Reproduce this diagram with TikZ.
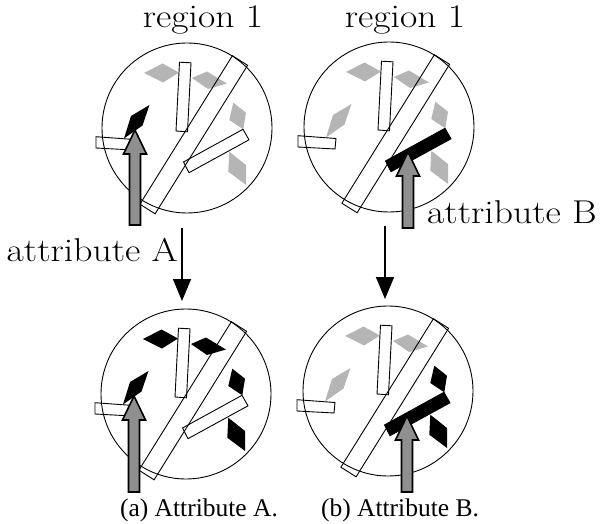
\documentclass[tikz,border=0pt]{standalone}
\usepackage{fontspec}
\newfontfamily\capfont{Liberation Serif}
\usetikzlibrary{arrows.meta}
\definecolor{lgray}{gray}{0.71}
\definecolor{agray}{gray}{0.56}
\newcommand\widetext[1]{\scalebox{1.14}[1]{#1}}
\tikzset{
  ring/.style={circle, draw=black, line width=0.9pt, minimum size=170pt, inner sep=0pt},
  rectline/.style={draw=black, line width=0.9pt},
  grayarrow/.style={draw=black, fill=agray, line width=1.6pt, line join=miter},
  downarr/.style={draw=black, line width=1.6pt, -{Triangle[width=18pt,length=22pt]}},
  lbl/.style={inner sep=0pt, font=\fontsize{33}{40}\selectfont},
  captext/.style={inner sep=0pt, font=\capfont\fontsize{25.5}{30}\selectfont}
}
\newcommand\drawscene[9]{%
  \begin{scope}[shift={(#1,#2)}]
    \fill[#3] (-43,-55) -- (-24.5,-64.5) -- (-8,-55.5) -- (-24,-45.5) -- cycle;
    \fill[#3] (5,-50) -- (20,-56.5) -- (40,-44.5) -- (21,-39) -- cycle;
    \fill[#4] (46.3,-25.3) -- (59,-15.3) -- (56.3,1.3) -- (42.3,-8) -- cycle;
    \fill[#4] (42.3,23.7) -- (59,37) -- (59,57) -- (41.3,43.7) -- cycle;
    \draw[rectline] (45.4,-72.3) -- (60.6,-62.7) -- (-31.9,85.8) -- (-47.1,76.2) -- cycle;
    \draw[rectline] (-7.5,-65.8) -- (4,-65.2) -- (0.5,3.8) -- (-11,3) -- cycle;
    \draw[rectline] (-91,8.7) -- (-53,11.5) -- (-54,22) -- (-91,20) -- cycle;
    \draw[#6] (-3.5,34) -- (56,1.3) -- (62,11.8) -- (2,44.7) -- cycle;
    \fill[#5] (-37.5,-23) -- (-56,-12) -- (-63,10.5) -- (-44.5,-2.5) -- cycle;
    \draw[grayarrow] (#7,#8) -- (#7+11.5,#8+24) -- (#7+5.5,#8+24) -- (#7+5.5,#9)
      -- (#7-5.5,#9) -- (#7-5.5,#8+24) -- (#7-11.5,#8+24) -- cycle;
  \end{scope}}
\begin{document}
\begin{tikzpicture}[x=1pt,y=-1pt]
  \useasboundingbox (0,0) rectangle (600,524);
  % circles
  \node[ring] (c1) at (187,128) {};
  \node[ring] (c2) at (389,127) {};
  \node[ring] (c3) at (186,394) {};
  \node[ring] (c4) at (388,391) {};
  % contents
  \drawscene{187}{128}{lgray}{lgray}{black}{rectline}{-52}{2}{97}
  \drawscene{389}{127}{lgray}{lgray}{lgray}{rectline,fill=black}{19}{25}{101}
  \drawscene{186}{394}{black}{black}{black}{rectline}{-52}{2}{98}
  \drawscene{388}{391}{lgray}{black}{lgray}{rectline,fill=black}{19}{25}{101}
  % labels
  \node[lbl, anchor=base] (r1) at (203,28) {\widetext{region 1}};
  \node[lbl, anchor=base] (r2) at (405,28) {\widetext{region 1}};
  \node[lbl, anchor=base east] (la) at (178,261) {\widetext{attribute A}};
  \node[lbl, anchor=base west] (lb) at (427,223) {\widetext{attribute B}};
  % down arrows
  \coordinate (d1s) at (182,228);
  \coordinate (d1e) at (182,301);
  \coordinate (d2s) at (385,226);
  \coordinate (d2e) at (385,299);
  \draw[downarr] (d1s) -- (d1e);
  \draw[downarr] (d2s) -- (d2e);
  % captions
  \node[captext, anchor=base] (ca) at (199,516) {(a) Attribute A.};
  \node[captext, anchor=base] (cb) at (400,516) {(b) Attribute B.};
\end{tikzpicture}
\end{document}
